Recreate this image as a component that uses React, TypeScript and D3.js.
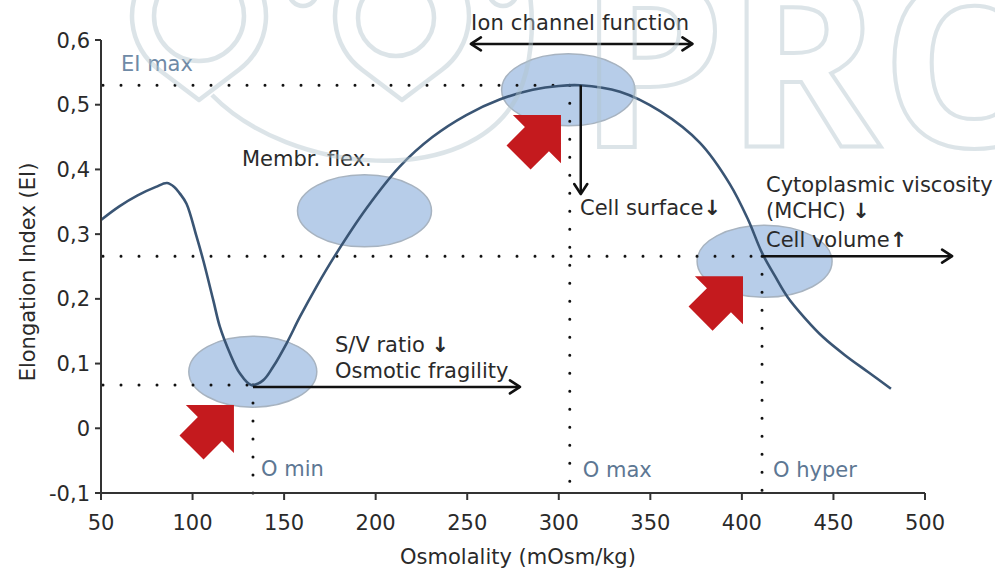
import React from "react";
import * as d3 from "d3";

// ---- data ----
const curveOsm = [50, 60, 70, 80, 86, 90, 93, 96.7, 102.2, 105.8, 111.3, 114.9, 120.4, 125.8, 132, 138.5, 144, 151.3, 158.6, 167.7, 177.6, 195, 213, 231, 249.5, 267.7, 285.8, 300, 311.6, 333.4, 355.3, 377.1, 393.5, 403.3, 411, 418.1, 424.9, 434.5, 444.3, 456.3, 468.9, 481.4];
const curveEI = [0.322, 0.343, 0.36, 0.373, 0.379, 0.373, 0.363, 0.347, 0.296, 0.26, 0.198, 0.157, 0.116, 0.085, 0.067, 0.074, 0.095, 0.131, 0.172, 0.219, 0.266, 0.34, 0.404, 0.45, 0.484, 0.508, 0.523, 0.529, 0.53, 0.52, 0.49, 0.441, 0.377, 0.323, 0.271, 0.235, 0.203, 0.17, 0.141, 0.113, 0.087, 0.061];

const xTicks = [50, 100, 150, 200, 250, 300, 350, 400, 450, 500];
const xTickLabels = ["50", "100", "150", "200", "250", "300", "350", "400", "450", "500"];
const yTicks = [-0.1, 0, 0.1, 0.2, 0.3, 0.4, 0.5, 0.6];
const yTickLabels = ["-0,1", "0", "0,1", "0,2", "0,3", "0,4", "0,5", "0,6"];

// reference points (osmolality, EI)
const refNames = ["O min", "O max", "O hyper"];
const refOsm = [133, 306, 411];
const refEI = [0.067, 0.53, 0.266];

// highlighted zones (centre osmolality, centre EI)
const zoneOsm = [132.9, 193.9, 305.2, 412.4];
const zoneEI = [0.0875, 0.336, 0.523, 0.258];

// red pointer tips (osmolality, EI)
const pointerOsm = [122.6, 301.2, 400.6];
const pointerEI = [0.036, 0.484, 0.235];

const xTitle = "Osmolality (mOsm/kg)";
const yTitle = "Elongation Index (EI)";

export default function App() {
  const W = 995, H = 569;
  const x = d3.scaleLinear().domain([50, 500]).range([101, 925]);
  const y = d3.scaleLinear().domain([-0.1, 0.6]).range([493, 40]);
  const pts: [number, number][] = curveOsm.map((o, i) => [o, curveEI[i]]);
  const line = d3
    .line<[number, number]>()
    .x((d) => x(d[0]))
    .y((d) => y(d[1]))
    .curve(d3.curveCatmullRom.alpha(0.5));

  const font = "'DejaVu Sans', Verdana, sans-serif";
  const txt = "#2a2a2a";
  const lbl = "#5d7793";
  const dot = { stroke: "#111", strokeWidth: 3, strokeLinecap: "round" as const, strokeDasharray: "0 18", fill: "none" };
  const arrowStyle = { stroke: "#111", strokeWidth: 2.5, fill: "none" };

  const zoneR = [[64, 35.5], [67, 36], [66.7, 36], [67.5, 36]];
  const pointerPath = "M0,0 L-34,-34 L-34,-17 L-60,-17 L-60,17 L-34,17 L-34,34 Z";

  const [oMin, oMax, oHyp] = [0, 1, 2].map((i) => ({ px: x(refOsm[i]), py: y(refEI[i]) }));
  const B = (s: string) => <tspan fontWeight="bold">{s}</tspan>;

  return (
    <svg width={W} height={H} style={{ position: "absolute", left: 0, top: 0, background: "#fff" }} fontFamily={font}>
      <defs>
        <marker id="ah" viewBox="0 0 14 16" refX="12" refY="8" markerWidth="14" markerHeight="16" markerUnits="userSpaceOnUse" orient="auto-start-reverse">
          <path d="M2,1.5 L12,8 L2,14.5" fill="none" stroke="#111" strokeWidth="2.6" strokeLinejoin="round" strokeLinecap="round" />
        </marker>
      </defs>

      {/* zones */}
      {zoneOsm.map((o, i) => (
        <ellipse key={i} cx={x(o)} cy={y(zoneEI[i])} rx={zoneR[i][0]} ry={zoneR[i][1]} fill="#b7cde9" stroke="#a7b3c0" strokeWidth={1.5} />
      ))}

      {/* dotted guides */}
      {[oMin, oMax, oHyp].map((p, i) => (
        <g key={i}>
          <line x1={x(50) + 2} x2={p.px} y1={p.py} y2={p.py} {...dot} />
          <line x1={p.px} x2={p.px} y1={p.py} y2={y(-0.1)} {...dot} />
        </g>
      ))}

      {/* curve */}
      <path d={line(pts) || ""} fill="none" stroke="#3a5574" strokeWidth={2.6} />

      {/* black arrows */}
      <line x1={oMin.px} y1={oMin.py + 2} x2={x(278.8)} y2={oMin.py + 2} {...arrowStyle} markerEnd="url(#ah)" />
      <line x1={x(252)} y1={y(0.594)} x2={x(373)} y2={y(0.594)} {...arrowStyle} markerStart="url(#ah)" markerEnd="url(#ah)" />
      <line x1={x(312)} y1={oMax.py} x2={x(312)} y2={y(0.362)} {...arrowStyle} markerEnd="url(#ah)" />
      <line x1={oHyp.px} y1={oHyp.py} x2={x(514.8)} y2={oHyp.py} {...arrowStyle} markerEnd="url(#ah)" />

      {/* red pointers */}
      {pointerOsm.map((o, i) => (
        <path key={i} d={pointerPath} transform={`translate(${x(o)},${y(pointerEI[i])}) rotate(-45)`} fill="#c41a1e" />
      ))}

      {/* annotation texts */}
      <g fontSize={21} fill={txt}>
        <text x={471} y={30} textLength={218}>Ion channel function</text>
        <text x={242} y={166}>Membr. flex.</text>
        <text x={335} y={352}>S/V ratio {B("↓")}</text>
        <text x={335} y={378}>Osmotic fragility</text>
        <text x={580} y={215}>Cell surface{B("↓")}</text>
        <text x={766} y={192}>Cytoplasmic viscosity</text>
        <text x={766} y={218}>(MCHC) {B("↓")}</text>
        <text x={766} y={247}>Cell volume{B("↑")}</text>
      </g>
      <g fontSize={21} fill={lbl}>
        <text x={121} y={71} fill="#6f8aa6">EI max</text>
        <text x={oMin.px + 8} y={476}>{refNames[0]}</text>
        <text x={oMax.px + 13} y={477}>{refNames[1]}</text>
        <text x={oHyp.px + 11} y={477}>{refNames[2]}</text>
      </g>

      {/* axes */}
      <g stroke="#333" strokeWidth={2} fill="none">
        <line x1={x(50)} x2={x(50)} y1={y(0.6)} y2={y(-0.1)} />
        <line x1={x(50)} x2={x(500)} y1={y(-0.1)} y2={y(-0.1)} />
        {yTicks.map((t) => (
          <line key={t} x1={x(50) - 6} x2={x(50)} y1={y(t)} y2={y(t)} />
        ))}
        {xTicks.map((t) => (
          <line key={t} x1={x(t)} x2={x(t)} y1={y(-0.1)} y2={y(-0.1) + 7} />
        ))}
      </g>
      <g fontSize={21} fill={txt}>
        {yTicks.map((t, i) => (
          <text key={t} x={x(50) - 11} y={y(t)} dy="0.36em" textAnchor="end">{yTickLabels[i]}</text>
        ))}
        {xTicks.map((t, i) => (
          <text key={t} x={x(t)} y={530} textAnchor="middle">{xTickLabels[i]}</text>
        ))}
        <text x={518} y={564} textAnchor="middle">{xTitle}</text>
        <text transform={`translate(35,272) rotate(-90)`} textAnchor="middle">{yTitle}</text>
      </g>

      {/* watermark */}
      <g opacity={0.45} fill="none" stroke="#b2c5ce" strokeWidth={4.5}>
        <path d="M199,100 L239.3,69.5 A67,67 0 1 0 158.7,69.5 Z" strokeLinejoin="round" />
        <circle cx={199} cy={16} r={45} />
        <path d="M402,100 L442.3,69.5 A67,67 0 1 0 361.7,69.5 Z" strokeLinejoin="round" />
        <circle cx={396} cy={18} r={38} />
        <circle cx={303} cy={-8} r={14} />
        <circle cx={503} cy={-8} r={14} />
        <path d="M212,95 C290,175 470,190 518,95 C532,65 534,25 530,-5" />
        <text x={578} y={147} fontFamily="'Open Sans', sans-serif" fontWeight={700} fontSize={235} strokeWidth={4}>PRO</text>
      </g>
    </svg>
  );
}
